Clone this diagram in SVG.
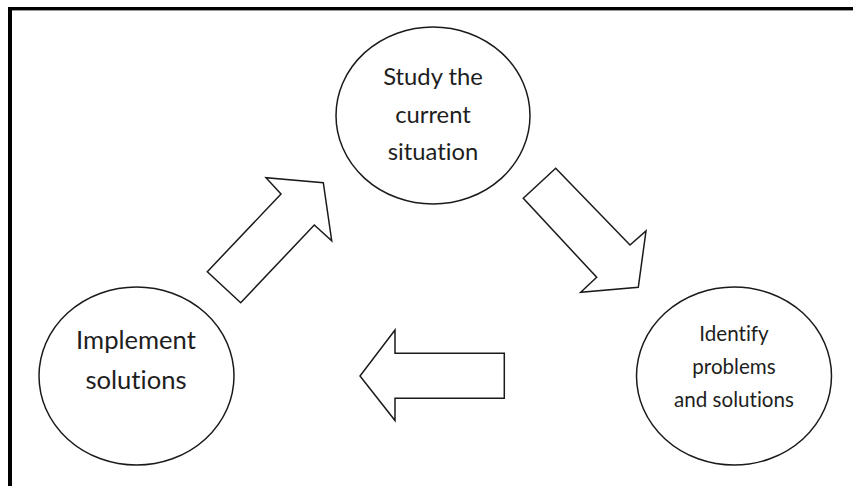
<svg xmlns="http://www.w3.org/2000/svg" width="853" height="486" viewBox="0 0 853 486">
  <style>
    .node ellipse { fill: #ffffff; stroke: #1a1a1a; stroke-width: 1.5; }
    .node text { font-family: Lato, "Open Sans", "Liberation Sans", sans-serif; fill: #1e1e1e; text-anchor: middle; font-variant-ligatures: none; }
    .mid { font-size: 23.8px; }
    .big { font-size: 25.6px; }
    .small { font-size: 20.6px; }
    .arrow { fill: #ffffff; stroke: #1a1a1a; stroke-width: 1.5; stroke-linejoin: miter; }
  </style>
  <rect x="0" y="0" width="853" height="486" fill="#ffffff"/>
  <!-- frame: top and left edges -->
  <rect x="8" y="7" width="845" height="3.4" fill="#000000"/>
  <rect x="8" y="7" width="4" height="479" fill="#000000"/>

  <g id="study">
    <g class="node">
      <ellipse cx="433" cy="115.5" rx="97" ry="88.5"/>
      <text class="mid" x="433" y="84.5">Study the</text>
      <text class="mid" x="433" y="122.5">current</text>
      <text class="mid" x="433" y="160">situation</text>
    </g>
  </g>

  <g id="identify">
    <g class="node">
      <ellipse cx="734" cy="376" rx="97.5" ry="89"/>
      <text class="small" x="734" y="341">Identify</text>
      <text class="small" x="734" y="374">problems</text>
      <text class="small" x="734" y="407">and solutions</text>
    </g>
  </g>

  <g id="implement">
    <g class="node">
      <ellipse cx="136.5" cy="376" rx="97.5" ry="89"/>
      <text class="big" x="136" y="348.5">Implement</text>
      <text class="big" x="136" y="388.5">solutions</text>
    </g>
  </g>

  <g id="connectors">
    <!-- implement -> study -->
    <polygon class="arrow" points="207.3,271.7 281,194 266,177.7 323.3,182.7 331.7,240.7 314.3,225 240.7,302.7"/>
    <!-- study -> identify -->
    <polygon class="arrow" points="555.7,168.3 630,245 646,231 638.3,287.3 580.7,292.3 596.7,277.3 523.3,198.3"/>
    <!-- identify -> implement -->
    <polygon class="arrow" points="504.3,353.3 395,353.3 395,330 360,376 395,420.5 395,398.3 504.3,398.3"/>
  </g>
</svg>
